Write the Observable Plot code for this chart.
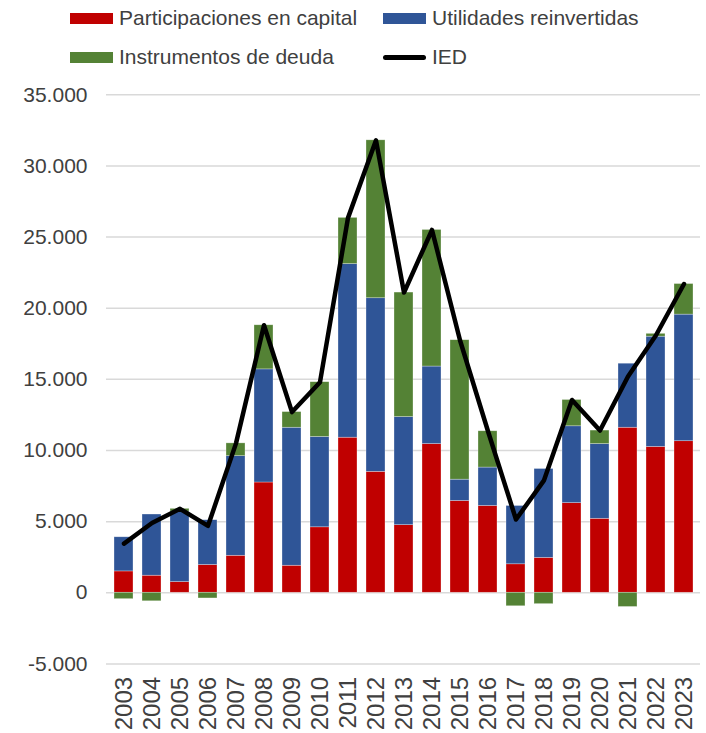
<!DOCTYPE html>
<html><head><meta charset="utf-8">
<script src="https://cdn.jsdelivr.net/npm/d3@7"></script>
<script src="https://cdn.jsdelivr.net/npm/@observablehq/plot@0.6"></script>
<style>
body{margin:0;background:#fff;font-family:"Liberation Sans",Arial,sans-serif;overflow:hidden;}
#legend{position:relative;width:706px;height:80px;font-size:21px;color:#404040;}
.item{position:absolute;display:flex;align-items:center;height:26px;white-space:nowrap;}
.sw{width:43px;height:11px;margin-right:6px;}
.ln{width:43px;height:5px;border-radius:3px;background:#000;margin-right:6px;}
</style></head><body>
<div id="legend"></div>
<div id="chart"></div>
<script>
const years = ["2003","2004","2005","2006","2007","2008","2009","2010","2011","2012","2013","2014","2015","2016","2017","2018","2019","2020","2021","2022","2023"];
const participaciones = [1500,1200,750,1950,2600,7750,1900,4600,10900,8500,4750,10450,6450,6100,2000,2450,6300,5200,11600,10250,10650];
const utilidades = [2400,4300,4950,3150,7000,7950,9700,6350,12200,12200,7600,5450,1500,2700,4100,6250,5400,5250,4500,7750,8900];
const instrumentos = [-450,-600,200,-400,900,3100,1100,3850,3250,11100,8750,9600,9800,2550,-950,-800,1850,950,-1000,200,2150];
const ied = [3450,4900,5900,4700,10500,18800,12700,14800,26350,31800,21100,25500,17750,11350,5150,7900,13550,11400,15200,18100,21700];
const seriesNames = ["Participaciones en capital","Utilidades reinvertidas","Instrumentos de deuda"];
const seriesColors = ["#C00000","#2F5597","#548235"];
const lineName = "IED";
const yTicks = [-5000,0,5000,10000,15000,20000,25000,30000,35000];

const loc = d3.formatLocale({decimal:",",thousands:".",grouping:[3],currency:["",""],minus:"-"});
const fmt = loc.format(",d");

const seriesValues = [participaciones, utilidades, instrumentos];
const rows = years.flatMap((y,i)=>seriesNames.map((s,k)=>({year:y, series:s, value:seriesValues[k][i]})));
const lineRows = years.map((y,i)=>({year:y, value:ied[i]}));

// legend
const legend = document.getElementById("legend");
const legendItems = [
  {label:seriesNames[0], color:seriesColors[0], left:70, top:5},
  {label:seriesNames[1], color:seriesColors[1], left:383, top:5},
  {label:seriesNames[2], color:seriesColors[2], left:70, top:44},
  {label:lineName, color:null, left:383, top:44}
];
for (const it of legendItems) {
  const d = document.createElement("div");
  d.className = "item";
  d.style.left = it.left + "px";
  d.style.top = it.top + "px";
  const sw = document.createElement("div");
  if (it.color) { sw.className = "sw"; sw.style.background = it.color; } else { sw.className = "ln"; }
  d.appendChild(sw);
  const t = document.createElement("span");
  t.textContent = it.label;
  d.appendChild(t);
  legend.appendChild(d);
}

const chart = Plot.plot({
  width:706, height:653,
  marginTop:14.3, marginBottom:69.6, marginLeft:106, marginRight:6,
  style:{fontFamily:"'Liberation Sans', Arial, sans-serif", fontSize:"21px", color:"#404040", background:"white", overflow:"visible"},
  x:{type:"band", domain:years, paddingInner:0.33, paddingOuter:0.165, label:null},
  y:{domain:[-5000,35000], label:null},
  color:{domain:seriesNames, range:seriesColors},
  marks:[
    Plot.ruleY(yTicks,{stroke:"#d9d9d9", strokeWidth:1.5}),
    Plot.barY(rows,{x:"year", y:"value", fill:"series", order:seriesNames, stroke:"#ffffff", strokeOpacity:0.5, strokeWidth:0.6}),
    Plot.line(lineRows,{x:"year", y:"value", stroke:"#000", strokeWidth:4.5, strokeLinejoin:"round", strokeLinecap:"round"}),
    Plot.axisX({tickSize:0, tickPadding:13, tickRotate:-90, label:null, fill:"#404040", fontSize:24}),
    Plot.axisY({ticks:yTicks, tickFormat:fmt, tickSize:0, tickPadding:19, label:null, fill:"#404040"})
  ]
});
document.getElementById("chart").appendChild(chart);
</script>
</body></html>
